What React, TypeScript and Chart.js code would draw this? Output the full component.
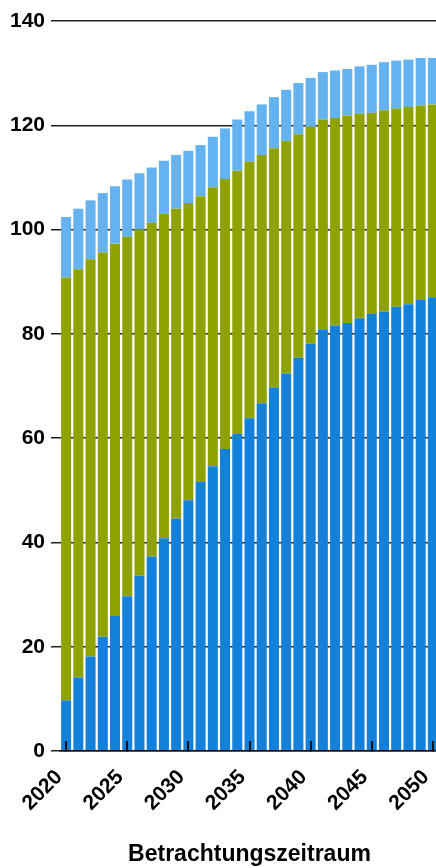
import React, { useEffect, useRef } from "react";
import { Chart, registerables } from "chart.js";

Chart.register(...registerables);

const years = [
  "2020", "2021", "2022", "2023", "2024", "2025", "2026", "2027", "2028", "2029",
  "2030", "2031", "2032", "2033", "2034", "2035", "2036", "2037", "2038", "2039",
  "2040", "2041", "2042", "2043", "2044", "2045", "2046", "2047", "2048", "2049",
  "2050",
];

const labeledYears = ["2020", "2025", "2030", "2035", "2040", "2045", "2050"];

// bottom segment (blue)
const blueValues = [
  9.7, 14.1, 18.1, 21.9, 25.9, 29.7, 33.6, 37.3, 40.8, 44.6,
  48.1, 51.6, 54.6, 57.9, 60.8, 63.8, 66.7, 69.7, 72.4, 75.4,
  78.1, 80.9, 81.6, 82.1, 83.0, 83.8, 84.3, 85.2, 85.7, 86.5,
  87.0,
];

// middle segment (olive)
const oliveValues = [
  81.1, 78.3, 76.2, 73.7, 71.4, 68.9, 66.4, 64.0, 62.2, 59.4,
  57.0, 54.8, 53.5, 51.8, 50.5, 49.2, 47.6, 45.9, 44.6, 42.9,
  41.6, 40.2, 39.8, 39.8, 39.2, 38.6, 38.6, 38.0, 37.8, 37.3,
  37.0,
];

// top segment (light blue)
const lightBlueValues = [
  11.6, 11.6, 11.3, 11.4, 11.0, 11.0, 10.8, 10.6, 10.2, 10.3,
  10.0, 9.8, 9.7, 9.7, 9.8, 9.7, 9.7, 9.8, 9.8, 9.8,
  9.4, 9.1, 9.1, 8.9, 9.1, 9.2, 9.2, 9.2, 9.1, 9.1,
  8.9,
];

const yMin = 0;
const yMax = 140;
const yStep = 20;
const xAxisTitle = "Betrachtungszeitraum";

const FONT = "'Liberation Sans', Arial, sans-serif";

export default function App() {
  const ref = useRef<HTMLCanvasElement | null>(null);

  useEffect(() => {
    if (!ref.current) return;
    const chart = new Chart(ref.current, {
      type: "bar",
      data: {
        labels: years,
        datasets: [
          { label: "A", data: blueValues, backgroundColor: "#1380DA", borderWidth: 0 },
          { label: "B", data: oliveValues, backgroundColor: "#8FA300", borderWidth: 0 },
          { label: "C", data: lightBlueValues, backgroundColor: "#64B3F0", borderWidth: 0 },
        ],
      },
      options: {
        responsive: false,
        animation: false,
        devicePixelRatio: 1,
        datasets: {
          bar: { barPercentage: 0.82, categoryPercentage: 1 },
        },
        layout: {
          autoPadding: false,
          padding: { top: 21, right: 1, bottom: 0, left: 0 },
        },
        plugins: {
          legend: { display: false },
          tooltip: { enabled: false },
          title: { display: false },
        },
        scales: {
          x: {
            stacked: true,
            offset: true,
            afterFit: (scale: any) => {
              scale.height = 117;
              scale.paddingLeft = 0;
              scale.paddingRight = 0;
            },
            grid: {
              display: true,
              drawOnChartArea: false,
              drawTicks: true,
              tickLength: -10,
              offset: false,
              lineWidth: 2,
              z: 1,
              color: (ctx: any) =>
                labeledYears.includes(years[ctx.index]) ? "#111111" : "rgba(0,0,0,0)",
            },
            border: { display: true, color: "#111111", width: 1.5, z: 1 },
            ticks: {
              autoSkip: false,
              maxRotation: 45,
              minRotation: 45,
              padding: 24,
              labelOffset: -7,
              color: "#000000",
              font: { family: FONT, size: 21, weight: "bold" },
              callback: (_v: any, i: number) =>
                labeledYears.includes(years[i]) ? years[i] : "",
            },
            title: {
              display: true,
              text: xAxisTitle,
              color: "#000000",
              font: { family: FONT, size: 23, weight: "bold" },
              padding: { top: 0, bottom: 0 },
            },
          },
          y: {
            stacked: true,
            min: yMin,
            max: yMax,
            afterFit: (scale: any) => {
              scale.width = 60;
              scale.paddingTop = 0;
              scale.paddingBottom = 0;
            },
            grid: {
              color: "#222222",
              lineWidth: 1.5,
              tickLength: 9,
            },
            border: { display: false },
            ticks: {
              stepSize: yStep,
              padding: 6,
              color: "#000000",
              font: { family: FONT, size: 21, weight: "bold" },
            },
          },
        },
      },
    });
    return () => chart.destroy();
  }, []);

  return (
    <div
      style={{
        position: "absolute",
        left: 0,
        top: 0,
        width: 436,
        height: 868,
        overflow: "hidden",
        background: "#ffffff",
      }}
    >
      <canvas
        ref={ref}
        width={440}
        height={868}
        style={{ display: "block", width: 440, height: 868 }}
      />
    </div>
  );
}
